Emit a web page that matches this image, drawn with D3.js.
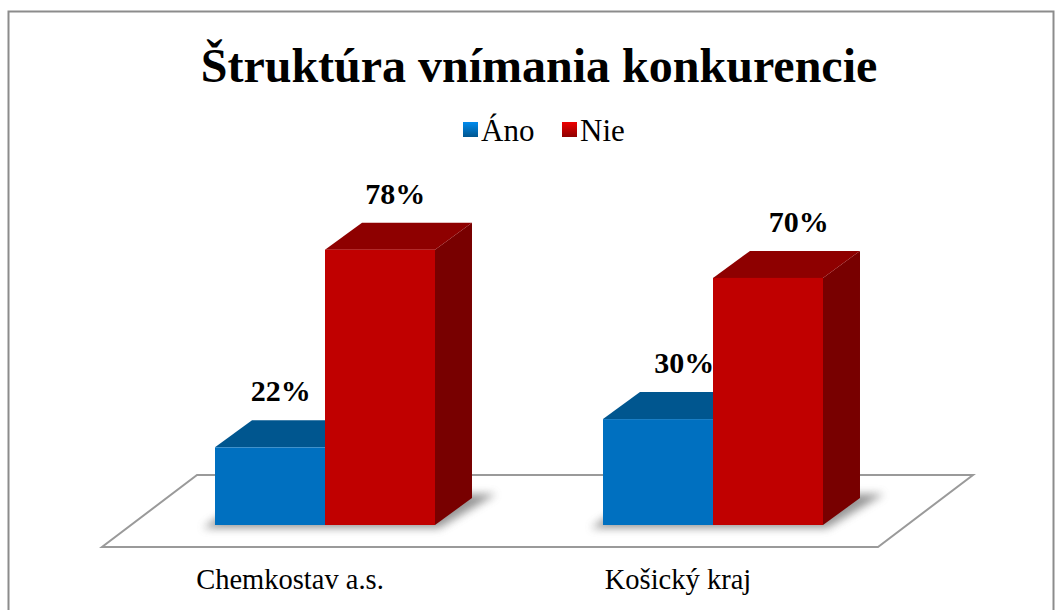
<!DOCTYPE html>
<html>
<head>
<meta charset="utf-8">
<script src="https://cdn.jsdelivr.net/npm/d3@7"></script>
<style>
  body { margin: 0; background: #fff; }
  text { font-family: "Liberation Serif", "Times New Roman", serif; fill: #000; }
</style>
</head>
<body>
<div id="chart"></div>
<script>
// data
var categories = ["Chemkostav a.s.", "Košický kraj"];
var series = ["Áno", "Nie"];
var anoValues = [22, 30];
var nieValues = [78, 70];
var seriesColors = {
  "Áno": { front: "#0070C0", top: "#00568F", side: "#004A7C" },
  "Nie": { front: "#C00000", top: "#8E0000", side: "#780000" }
};

var svgWidth = 1056, svgHeight = 610;

// 3D offsets
var barDepth = { dx: 37, dy: -27 };
var floorFront = { dx: -29, dy: 22 };   // floor front edge relative to bar front base
var floorBack = { dx: 66, dy: -50 };    // floor back edge relative to bar front base

var svg = d3.select("#chart").append("svg")
  .attr("width", svgWidth)
  .attr("height", svgHeight);

var defs = svg.append("defs");
defs.append("filter").attr("id", "shadow")
  .attr("x", "-20%").attr("y", "-50%").attr("width", "140%").attr("height", "200%")
  .append("feGaussianBlur").attr("stdDeviation", 4);

// outer border
svg.append("rect")
  .attr("x", 8.5).attr("y", 11.5)
  .attr("width", 1045).attr("height", 640)
  .attr("fill", "none")
  .attr("stroke", "#8c8c8c")
  .attr("stroke-width", 2);

// title
svg.append("text")
  .attr("x", 539).attr("y", 82)
  .attr("text-anchor", "middle")
  .attr("font-size", 48)
  .attr("font-weight", "bold")
  .text("Štruktúra vnímania konkurencie");

// scales
var x0 = d3.scaleBand()
  .domain(categories)
  .range([131, 907])
  .paddingInner(0.433)
  .paddingOuter(0.2165);

var x1 = d3.scaleBand()
  .domain(series)
  .range([0, x0.bandwidth()]);

var y = d3.scaleLinear()
  .domain([0, 100])
  .range([525, 172]);

var baseY = y(0);
var left = x0.range()[0], right = x0.range()[1];

// floor
var floorPts = [
  [left + floorFront.dx, baseY + floorFront.dy],
  [right + floorFront.dx, baseY + floorFront.dy],
  [right + floorBack.dx, baseY + floorBack.dy],
  [left + floorBack.dx, baseY + floorBack.dy]
];
svg.append("polygon")
  .attr("points", floorPts.map(p => p.join(",")).join(" "))
  .attr("fill", "#fff")
  .attr("stroke", "#9a9a9a")
  .attr("stroke-width", 2);

var table = categories.map(function (c, i) {
  return { category: c, values: [
    { key: "Áno", value: anoValues[i] },
    { key: "Nie", value: nieValues[i] }
  ] };
});

// shadows under bars
table.forEach(function (d) {
  var bx = x0(d.category);
  var w = x0.bandwidth();
  var pts = [
    [bx - 12, baseY + 3],
    [bx + w + 4, baseY + 3],
    [bx + w + barDepth.dx + 24, baseY + barDepth.dy - 4],
    [bx + barDepth.dx, baseY + barDepth.dy - 4]
  ];
  svg.append("polygon")
    .attr("points", pts.map(p => p.join(",")).join(" "))
    .attr("fill", "#6a6a6a")
    .attr("opacity", 0.7)
    .attr("filter", "url(#shadow)");
});

// bars
var groups = svg.selectAll("g.cat")
  .data(table)
  .enter().append("g")
  .attr("class", "cat")
  .attr("transform", d => `translate(${x0(d.category)},0)`);

groups.each(function (d) {
  var g = d3.select(this);
  d.values.forEach(function (v) {
    var xl = x1(v.key), xr = xl + x1.bandwidth(), yt = y(v.value);
    var c = seriesColors[v.key];
    var dx = barDepth.dx, dy = barDepth.dy;
    // side
    g.append("polygon")
      .attr("points", [[xr, yt], [xr + dx, yt + dy], [xr + dx, baseY + dy], [xr, baseY]].map(p => p.join(",")).join(" "))
      .attr("fill", c.side);
    // top
    g.append("polygon")
      .attr("points", [[xl, yt], [xl + dx, yt + dy], [xr + dx, yt + dy], [xr, yt]].map(p => p.join(",")).join(" "))
      .attr("fill", c.top);
    // front
    g.append("rect")
      .attr("x", xl).attr("y", yt)
      .attr("width", x1.bandwidth())
      .attr("height", baseY - yt)
      .attr("fill", c.front);
  });
});

// value labels (shifted right a little more the further right the bar sits)
groups.each(function (d) {
  var gx = x0(d.category);
  d3.select(this).selectAll("text.val")
    .data(d.values)
    .enter().append("text")
    .attr("class", "val")
    .attr("x", v => {
      var cx = x1(v.key) + x1.bandwidth() / 2;
      return cx + (gx + cx) * 0.04;
    })
    .attr("y", v => y(v.value) + barDepth.dy - 19)
    .attr("text-anchor", "middle")
    .attr("font-size", 30)
    .attr("font-weight", "bold")
    .text(v => v.value + "%");
});

// category labels along front floor edge
svg.selectAll("text.catlabel")
  .data(categories)
  .enter().append("text")
  .attr("class", "catlabel")
  .attr("x", d => x0(d) + x0.bandwidth() / 2 + floorFront.dx - 6)
  .attr("y", 589)
  .attr("text-anchor", "middle")
  .attr("font-size", 28.5)
  .text(d => d);

// legend
var legend = svg.append("g");
var legendX = [463, 562];
series.forEach(function (s, i) {
  var c = seriesColors[s];
  var lx = legendX[i];
  var grad = defs.append("linearGradient").attr("id", "lg" + i)
    .attr("x1", 0).attr("y1", 0).attr("x2", 0).attr("y2", 1);
  grad.append("stop").attr("offset", "0%").attr("stop-color", d3.color(c.front).brighter(0.6));
  grad.append("stop").attr("offset", "100%").attr("stop-color", c.top);
  legend.append("rect")
    .attr("x", lx).attr("y", 122)
    .attr("width", 15).attr("height", 15)
    .attr("fill", "url(#lg" + i + ")");
  legend.append("text")
    .attr("x", lx + 18).attr("y", 141)
    .attr("font-size", 31)
    .text(s);
});
</script>
</body>
</html>
